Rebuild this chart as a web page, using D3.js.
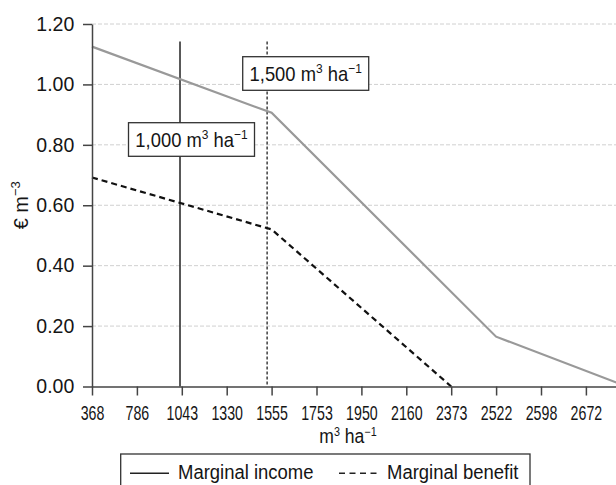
<!DOCTYPE html>
<html>
<head>
<meta charset="utf-8">
<script src="https://cdn.jsdelivr.net/npm/d3@7"></script>
<style>
  body { margin: 0; background: #fff; }
  text { font-family: "Liberation Sans", Arial, sans-serif; fill: #151515; }
</style>
</head>
<body>
<div id="container"></div>
<script>
let w = 616;
let h = 485;

// DATA
let categories = ["368", "786", "1043", "1330", "1555", "1753", "1950", "2160", "2373", "2522", "2598", "2672"];
let yTicks = [0, 0.2, 0.4, 0.6, 0.8, 1.0, 1.2];
// marginal income (grey line): category index -> value
let incomeIdx = [0, 4, 9, 12];
let incomeVal = [1.125, 0.906, 0.165, -0.005];
// marginal benefit (dashed line)
let benefitIdx = [0, 4, 8];
let benefitVal = [0.692, 0.52, 0.0];
// vertical reference lines (position in category index units)
let refPos = [1.96, 3.9];
let refTop = 1.142;
let refLabels = ["1,000", "1,500"];
let legendNames = ["Marginal income", "Marginal benefit"];

// SVG
let viz = d3.select("#container").append("svg")
    .attr("width", w)
    .attr("height", h)
    .style("display", "block");

let x = d3.scaleLinear().domain([0, 12]).range([92, 92 + 12 * 44.9]);
let y = d3.scaleLinear().domain([0, 1.2]).range([386.5, 24]);

// grid
viz.append("g").selectAll("line").data(yTicks.filter(d => d > 0)).enter()
  .append("line")
    .attr("x1", x(0)).attr("x2", w)
    .attr("y1", d => y(d)).attr("y2", d => y(d))
    .attr("stroke", "#d0d0d0")
    .attr("stroke-dasharray", "4,2")
    .attr("stroke-width", 1);

// reference lines
viz.append("g").selectAll("line").data(refPos).enter()
  .append("line")
    .attr("x1", d => x(d)).attr("x2", d => x(d))
    .attr("y1", y(refTop)).attr("y2", y(0))
    .attr("stroke", "#222")
    .attr("stroke-width", (d, i) => i == 0 ? 1.5 : 1.3)
    .attr("stroke-dasharray", (d, i) => i == 0 ? null : "3,2");

let lineMaker = d3.line()
    .x(d => x(d[0]))
    .y(d => y(d[1]));

viz.append("path")
    .datum(d3.zip(incomeIdx, incomeVal))
    .attr("d", lineMaker)
    .attr("fill", "none")
    .attr("stroke", "#999")
    .attr("stroke-width", 2.2);

viz.append("path")
    .datum(d3.zip(benefitIdx, benefitVal))
    .attr("d", lineMaker)
    .attr("fill", "none")
    .attr("stroke", "#111")
    .attr("stroke-width", 2.2)
    .attr("stroke-dasharray", "6,4");

// label boxes
let boxOffsets = [{dx: 11.5, top: 122.7}, {dx: 38.6, top: 56.7}];
let boxW = 126, boxH = 33.6;

function unitText(sel, prefix, sx, fs, sfs, sdy) {
  let t = sel.append("text")
      .attr("text-anchor", "middle")
      .attr("font-size", fs)
      .attr("transform", "scale(" + sx + ",1)");
  t.append("tspan").text(prefix + "m");
  t.append("tspan").attr("font-size", sfs).attr("dy", -sdy).text("3");
  t.append("tspan").attr("dy", sdy).text(" ha");
  t.append("tspan").attr("font-size", sfs).attr("dy", -sdy).text("\u22121");
  return t;
}

refPos.forEach(function(p, i) {
  let cx = x(p) + boxOffsets[i].dx;
  let top = boxOffsets[i].top;
  viz.append("rect")
      .attr("x", cx - boxW / 2).attr("y", top)
      .attr("width", boxW).attr("height", boxH)
      .attr("fill", "#fff")
      .attr("stroke", "#333")
      .attr("stroke-width", 1.3);
  let g = viz.append("g").attr("transform", "translate(" + cx + "," + (top + 24) + ")");
  unitText(g, refLabels[i] + " ", 0.92, 20, 13, 8);
});

// axes
let xAxis = d3.axisBottom(x)
    .tickValues(d3.range(categories.length))
    .tickFormat(i => categories[i])
    .tickSize(9)
    .tickSizeOuter(0)
    .tickPadding(10.3);

let xg = viz.append("g")
    .attr("transform", "translate(0," + y(0) + ")")
    .call(xAxis);
xg.selectAll("text")
    .attr("font-size", 20)
    .attr("transform", "scale(0.71,1)")
    .style("font-family", "'Liberation Sans', Arial, sans-serif")
    .attr("fill", "#151515");

let yAxis = d3.axisLeft(y)
    .tickValues(yTicks)
    .tickFormat(d3.format(".2f"))
    .tickSize(9)
    .tickSizeOuter(0)
    .tickPadding(8.7);

let yg = viz.append("g")
    .attr("transform", "translate(" + x(0) + ",0)")
    .call(yAxis);
yg.selectAll("text")
    .attr("font-size", 19.5)
    .style("font-family", "'Liberation Sans', Arial, sans-serif")
    .attr("fill", "#151515");

viz.selectAll(".domain, .tick line")
    .attr("stroke", "#444")
    .attr("stroke-width", 1.5);

// axis titles
let xt = viz.append("g").attr("transform", "translate(348,443)");
unitText(xt, "", 0.9, 19.5, 12, 7);

let yt = viz.append("text")
    .attr("transform", "translate(28," + (y(0.6)) + ") rotate(-90)")
    .attr("text-anchor", "middle")
    .attr("font-size", 20);
yt.append("tspan").text("\u20ac m");
yt.append("tspan").attr("font-size", 13).attr("dy", -8).text("\u22123");

// legend
viz.append("rect")
    .attr("x", 120.7).attr("y", 454)
    .attr("width", 409.3).attr("height", 50)
    .attr("fill", "#fff")
    .attr("stroke", "#333")
    .attr("stroke-width", 1.3);

let legendX = [130, 339];
let legend = viz.append("g").selectAll("g").data(legendNames).enter()
  .append("g")
    .attr("transform", (d, i) => "translate(" + legendX[i] + ",0)");
legend.append("line")
    .attr("x1", 0).attr("x2", 39)
    .attr("y1", 473.3).attr("y2", 473.3)
    .attr("stroke", "#222")
    .attr("stroke-width", 1.6)
    .attr("stroke-dasharray", (d, i) => i == 0 ? null : "6,4.5");
legend.append("g")
    .attr("transform", "translate(48,478.5)")
  .append("text")
    .attr("font-size", 21)
    .attr("transform", "scale(0.88,1)")
    .text(d => d);
</script>
</body>
</html>
